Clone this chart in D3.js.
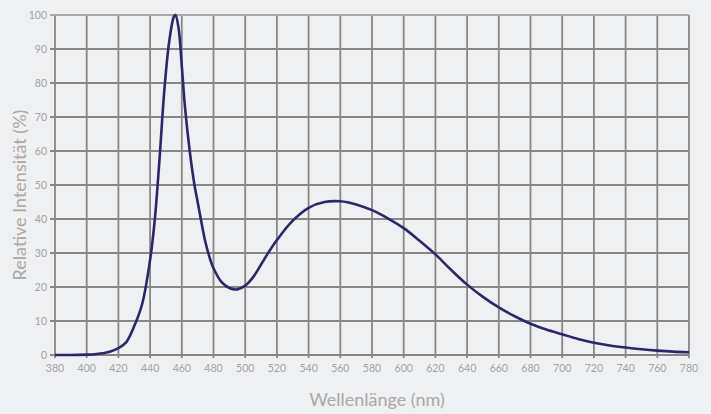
<!DOCTYPE html>
<html>
<head>
<meta charset="utf-8">
<script src="https://cdn.jsdelivr.net/npm/d3@7"></script>
<style>
	html, body { margin: 0; padding: 0; background: #eff0f2; }
	#chart text { font-family: Lato, "Noto Sans", sans-serif; fill: #a2a2a2; }
</style>
</head>
<body>
<div id="chart"></div>
<script>
// spectrum
const wavelength = [380, 390, 400, 405, 410, 415, 420, 425, 430, 435, 440, 443, 446, 449, 452, 455, 456, 458, 460, 462, 465, 468, 470, 472, 475, 478, 480, 485, 490, 495, 500, 505, 510, 515, 520, 530, 540, 550, 560, 570, 580, 590, 600, 610, 620, 630, 640, 650, 660, 670, 680, 690, 700, 710, 720, 730, 740, 750, 760, 770, 780];
const intensity = [0, 0, 0.1, 0.2, 0.5, 1.0, 2.0, 3.8, 8.5, 15, 28, 40, 58, 78, 92, 99.5, 100, 96, 85, 73, 60, 50, 45, 40, 33, 28, 25.5, 21.5, 19.7, 19.3, 20.4, 22.9, 26.6, 30.4, 33.8, 39.5, 43.3, 45, 45.2, 44.3, 42.6, 40.2, 37.3, 33.6, 29.6, 25, 20.7, 17.1, 14, 11.4, 9.2, 7.5, 6.1, 4.7, 3.6, 2.8, 2.2, 1.7, 1.3, 1.0, 0.8];
const xTicks = d3.range(380, 781, 20);
const yTicks = d3.range(0, 101, 10);

const data = wavelength.map((w, i) => ({nm: w, v: intensity[i]}));

const W = 711, H = 414;
const margin = {top: 15, right: 22, bottom: 59, left: 55},
		width = W - margin.left - margin.right,
		height = H - margin.top - margin.bottom;

const svg = d3.select("#chart")
	.append("svg")
		.attr("width", W)
		.attr("height", H)
	.append("g")
		.attr("transform", `translate(${margin.left},${margin.top})`);

const x = d3.scaleLinear().domain([380, 780]).range([0, width]);
const y = d3.scaleLinear().domain([0, 100]).range([height, 0]);

// grid
svg.append("g")
	.selectAll("line")
	.data(xTicks)
	.join("line")
		.attr("x1", d => x(d)).attr("x2", d => x(d))
		.attr("y1", 0).attr("y2", height + 3)
		.attr("stroke", "#878787")
		.attr("stroke-width", 1.8);
svg.append("g")
	.selectAll("line")
	.data(yTicks)
	.join("line")
		.attr("x1", -5).attr("x2", width)
		.attr("y1", d => y(d)).attr("y2", d => y(d))
		.attr("stroke", d => d === 100 ? "#a8a8a8" : "#878787")
		.attr("stroke-width", 1.8);

// x axis labels
svg.append("g")
	.selectAll("text")
	.data(xTicks)
	.join("text")
		.attr("x", d => x(d))
		.attr("y", height + 17)
		.attr("text-anchor", "middle")
		.attr("font-size", 10.5)
		.text(d => d);

// y axis labels
svg.append("g")
	.selectAll("text")
	.data(yTicks)
	.join("text")
		.attr("x", -8)
		.attr("y", d => y(d))
		.attr("dy", "0.35em")
		.attr("text-anchor", "end")
		.attr("font-size", 10.5)
		.text(d => d);

// titles
svg.append("text")
	.attr("x", width / 2 + 5)
	.attr("y", height + 51)
	.attr("text-anchor", "middle")
	.attr("font-size", 18)
	.style("fill", "#a8a8a8")
	.text("Wellenlänge (nm)");
svg.append("text")
	.attr("transform", `translate(${-29},${height / 2 + 10}) rotate(-90)`)
	.attr("text-anchor", "middle")
	.attr("font-size", 18)
	.style("fill", "#a8a8a8")
	.text("Relative Intensität (%)");

// spectrum
svg.append("path")
	.datum(data)
	.attr("fill", "none")
	.attr("stroke", "#2d2769")
	.attr("stroke-width", 2.6)
	.attr("stroke-linejoin", "round")
	.attr("d", d3.line()
		.x(d => x(d.nm))
		.y(d => y(d.v))
		.curve(d3.curveCatmullRom.alpha(0.5))
	);
</script>
</body>
</html>
